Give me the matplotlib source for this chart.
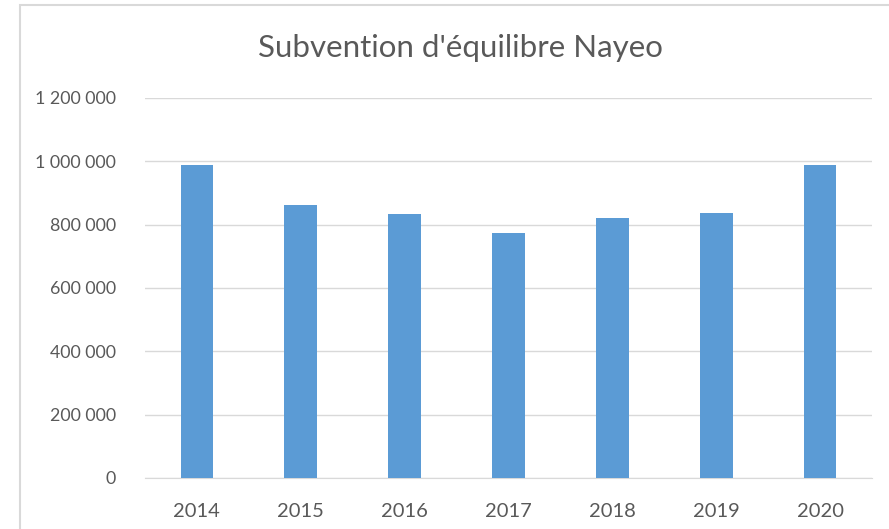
import matplotlib
matplotlib.use("Agg")
import matplotlib.pyplot as plt
from matplotlib.ticker import FuncFormatter, MultipleLocator
from matplotlib.patches import Rectangle

years = ["2014", "2015", "2016", "2017", "2018", "2019", "2020"]
values = [989000, 863000, 834000, 774000, 822000, 838000, 989000]
title = "Subvention d'équilibre Nayeo"

plt.rcParams['font.family'] = ['Lato', 'DejaVu Sans']

fig = plt.figure(figsize=(8.89, 5.29), dpi=100)
W, H = 889, 529
ax = fig.add_axes([145 / W, 1 - 478 / H, (872 - 145) / W, (478 - 98) / H])

# chart frame border
fig.patches.append(Rectangle((20 / W, -0.1), 1.2, 1 - 5 / H + 0.1, transform=fig.transFigure,
                             fill=False, edgecolor='#d9d9d9', linewidth=1.5))

x = range(len(years))
ax.bar(x, values, width=0.315, color='#5b9bd5', zorder=3)
ax.set_xlim(-0.5, len(years) - 0.5)
ax.set_ylim(0, 1200000)
ax.yaxis.set_major_locator(MultipleLocator(200000))
ax.yaxis.set_major_formatter(FuncFormatter(lambda v, p: f"{int(v):,}".replace(",", " ")))
ax.set_xticks(list(x))
ax.set_xticklabels(years)
ax.grid(axis='y', color='#d9d9d9', linewidth=1, zorder=0)
for s in ['top', 'right', 'left']:
    ax.spines[s].set_visible(False)
ax.spines['bottom'].set_color('#d9d9d9')
ax.tick_params(axis='both', length=0, colors='#595959')
ax.tick_params(axis='y', pad=21, labelsize=12.8)
ax.tick_params(axis='x', pad=18, labelsize=14.5)
fig.text(460 / W, 1 - 48 / H, title, ha='center', va='center', fontsize=22.5, color='#595959')

fig.savefig("out.png", dpi=100)
